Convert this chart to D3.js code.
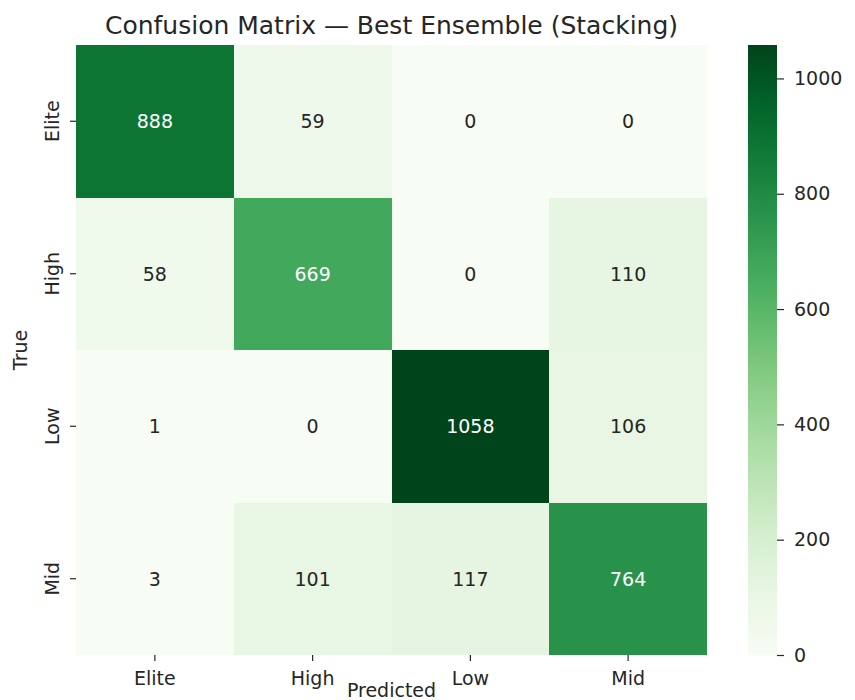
<!DOCTYPE html>
<html lang="en">
<head>
<meta charset="utf-8">
<title>Confusion Matrix — Best Ensemble (Stacking)</title>
<script src="https://d3js.org/d3.v7.min.js"></script>
<style>
    body { margin: 0; background: #fff; }
    svg { display: block; font-family: "DejaVu Sans", sans-serif; }
    .tick-label { font-size: 19px; fill: #262626; }
    .tick-line { stroke: #262626; stroke-width: 1.2px; }
</style>
</head>
<body>
<svg id="chart"></svg>
<script>
    // class labels (rows = true, columns = predicted)
    const classes = ["Elite", "High", "Low", "Mid"];
    const rowElite = [888, 59, 0, 0];
    const rowHigh = [58, 669, 0, 110];
    const rowLow = [1, 0, 1058, 106];
    const rowMid = [3, 101, 117, 764];
    const matrix = [rowElite, rowHigh, rowLow, rowMid];
    const colorbarTicks = [0, 200, 400, 600, 800, 1000];

    const width = 855, height = 700;
    const grid = { left: 76, top: 45, right: 707, bottom: 655 };
    const bar = { left: 748, right: 777 };

    const svg = d3.select("#chart").attr("width", width).attr("height", height);

    const x = d3.scaleBand().domain(classes).range([grid.left, grid.right]);
    const y = d3.scaleBand().domain(classes).range([grid.top, grid.bottom]);

    const vmax = d3.max(matrix.flat());
    const color = d3.scaleSequential(d3.interpolateGreens).domain([0, vmax]);

    const cells = [];
    matrix.forEach((row, i) => row.forEach((v, j) => cells.push({ t: classes[i], p: classes[j], v })));

    // seaborn picks annotation colour by luminance of the cell
    function luminance(c) {
        const rgb = d3.rgb(c);
        const lin = [rgb.r, rgb.g, rgb.b].map(u => {
            u /= 255;
            return u <= 0.03928 ? u / 12.92 : Math.pow((u + 0.055) / 1.055, 2.4);
        });
        return 0.2126 * lin[0] + 0.7152 * lin[1] + 0.0722 * lin[2];
    }

    svg.append("g").selectAll("rect")
        .data(cells)
        .join("rect")
        .attr("x", d => x(d.p))
        .attr("y", d => y(d.t))
        .attr("width", x.bandwidth())
        .attr("height", y.bandwidth())
        .attr("fill", d => color(d.v))
        .attr("shape-rendering", "crispEdges");

    svg.append("g").selectAll("text")
        .data(cells)
        .join("text")
        .attr("x", d => x(d.p) + x.bandwidth() / 2)
        .attr("y", d => y(d.t) + y.bandwidth() / 2)
        .attr("dy", "0.36em")
        .attr("text-anchor", "middle")
        .attr("font-size", 19)
        .attr("fill", d => luminance(color(d.v)) > 0.408 ? "#262626" : "#ffffff")
        .text(d => d.v);

    // x axis
    const xAxis = svg.append("g");
    classes.forEach(c => {
        const cx = x(c) + x.bandwidth() / 2;
        xAxis.append("line").attr("class", "tick-line")
            .attr("x1", cx).attr("x2", cx).attr("y1", grid.bottom).attr("y2", grid.bottom + 6);
        xAxis.append("text").attr("class", "tick-label")
            .attr("x", cx).attr("y", grid.bottom + 30)
            .attr("text-anchor", "middle")
            .text(c);
    });

    // y axis, labels rotated like seaborn's default
    const yAxis = svg.append("g");
    classes.forEach(c => {
        const cy = y(c) + y.bandwidth() / 2;
        yAxis.append("line").attr("class", "tick-line")
            .attr("x1", grid.left - 6).attr("x2", grid.left).attr("y1", cy).attr("y2", cy);
        yAxis.append("text").attr("class", "tick-label")
            .attr("transform", `translate(${grid.left - 17},${cy}) rotate(-90)`)
            .attr("text-anchor", "middle")
            .text(c);
    });

    svg.append("text").attr("class", "tick-label")
        .attr("transform", `translate(27,${(grid.top + grid.bottom) / 2}) rotate(-90)`)
        .attr("text-anchor", "middle")
        .text("True");

    // x label squeezed in between the High and Low tick labels so it stays on the page
    svg.append("text").attr("class", "tick-label")
        .attr("x", (grid.left + grid.right) / 2)
        .attr("y", 697)
        .attr("text-anchor", "middle")
        .text("Predicted");

    svg.append("text")
        .attr("x", (grid.left + grid.right) / 2)
        .attr("y", 34)
        .attr("text-anchor", "middle")
        .attr("font-size", 25)
        .attr("fill", "#262626")
        .text("Confusion Matrix — Best Ensemble (Stacking)");

    // colorbar
    const cbScale = d3.scaleLinear().domain([0, vmax]).range([grid.bottom, grid.top]);
    const defs = svg.append("defs");
    const grad = defs.append("linearGradient").attr("id", "cb")
        .attr("x1", 0).attr("y1", 1).attr("x2", 0).attr("y2", 0);
    d3.range(0, 1.0001, 0.05).forEach(t => {
        grad.append("stop").attr("offset", t).attr("stop-color", color(t * vmax));
    });
    svg.append("rect")
        .attr("x", bar.left).attr("y", grid.top)
        .attr("width", bar.right - bar.left).attr("height", grid.bottom - grid.top)
        .attr("fill", "url(#cb)");

    const cbAxis = svg.append("g")
        .attr("transform", `translate(${bar.right},0)`)
        .call(d3.axisRight(cbScale).tickValues(colorbarTicks).tickFormat(d3.format("d"))
            .tickSize(7).tickPadding(10));
    cbAxis.select(".domain").remove();
    cbAxis.selectAll("line").attr("stroke", "#262626").attr("stroke-width", 1.2);
    cbAxis.selectAll("text")
        .attr("font-family", "DejaVu Sans, sans-serif")
        .attr("font-size", 19)
        .attr("fill", "#262626");
</script>
</body>
</html>
